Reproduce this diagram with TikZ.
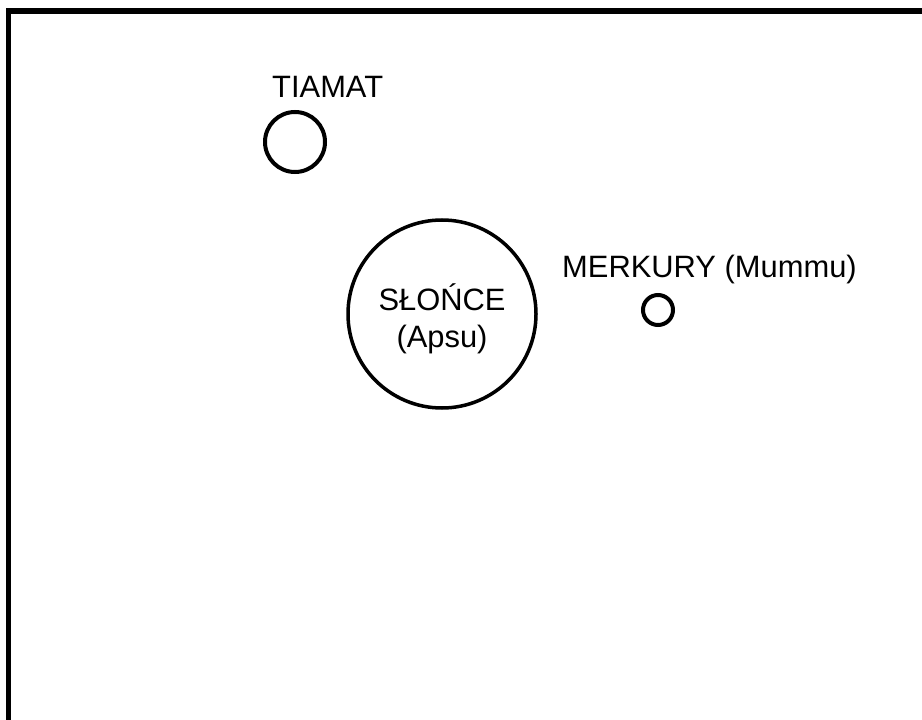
\documentclass[tikz,border=0pt]{standalone}
\usepackage{fontspec}
\setmainfont{Liberation Sans}
\tikzset{
  planet/.style={circle, draw=black, inner sep=0pt, line width=4bp},
  lbl/.style={inner sep=0pt, font=\fontsize{31}{36}\selectfont, anchor=base west},
  lblc/.style={inner sep=0pt, font=\fontsize{31}{36}\selectfont, anchor=base},
  frame/.style={line width=5.5bp, line cap=rect}
}
\begin{document}
\begin{tikzpicture}[x=1bp, y=-1bp]
  \useasboundingbox (0,0) rectangle (922,720);
  \fill[white] (0,0) rectangle (922,720);
  \coordinate (fb) at (8.5,725);
  \coordinate (fc) at (8.5,11);
  \coordinate (fr) at (930,11);
  \draw[frame] (fb) -- (fc) -- (fr);
  \node[lbl] (tiamatlbl) at (272,98) {TIAMAT};
  \node[planet, minimum size=60bp] (tiamat) at (295,142) {};
  \node[planet, line width=3.5bp, minimum size=188bp] (sun) at (442,314) {};
  \node[lblc] (sunlbl) at (442,310) {SŁOŃCE};
  \node[lblc] (apsu) at (442,347) {(Apsu)};
  \node[lbl] (merklbl) at (562,277) {MERKURY (Mummu)};
  \node[planet, minimum size=30bp] (merkury) at (658,310) {};
\end{tikzpicture}
\end{document}
